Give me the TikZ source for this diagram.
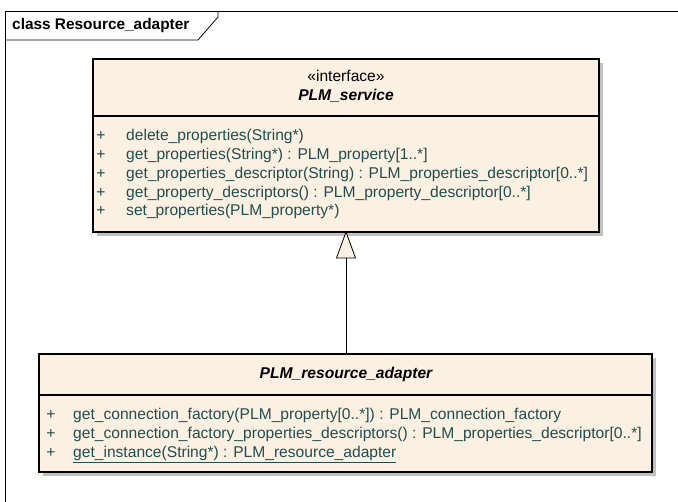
\documentclass[tikz,border=0pt]{standalone}
\usepackage{fontspec}
\setmainfont{Liberation Sans}
\definecolor{boxfill}{HTML}{FBF0E1}
\definecolor{optext}{HTML}{204F4F}
\definecolor{shadowc}{HTML}{C0C0C0}
\begin{document}
\begin{tikzpicture}[x=1pt,y=-1pt,
  boxline/.style={draw=black,line width=1.1pt},
  optxt/.style={anchor=west,inner sep=0pt,text=optext,font=\fontsize{15.6}{18}\selectfont,text height=11pt,text depth=3pt},
  plus/.style={anchor=center,inner sep=0pt,text=optext,font=\fontsize{15.6}{18}\selectfont,text height=11pt,text depth=3pt},
  titletxt/.style={anchor=center,inner sep=0pt,font=\fontsize{15.6}{18}\selectfont\bfseries\itshape,text height=11pt,text depth=3pt},
  stereo/.style={anchor=center,inner sep=0pt,font=\fontsize{15.6}{18}\selectfont,text height=11pt,text depth=3pt},
  frameline/.style={draw=black,line width=0.8pt}]
\useasboundingbox (0,0) rectangle (678,502);
\fill[white] (0,0) rectangle (678,502);
% frame
\draw[frameline] (5,502) -- (5,11) -- (678,11);
\draw[frameline] (5,40) -- (198,40) -- (218,17) -- (218,11);
\node[anchor=west,inner sep=0pt,font=\fontsize{15.4}{18}\selectfont\bfseries,text height=11pt,text depth=3pt] (frametitle) at (12,26) {class Resource\_adapter};
% top box
\fill[shadowc] (97,63) rectangle (603,236);
\fill[boxfill] (93,59) rectangle (599,232);
\draw[boxline] (93,59) rectangle (599,232);
\draw[boxline] (93,116) -- (599,116);
\coordinate (topbottom) at (346,232);
\node[stereo] (st) at (346,78) {«interface»};
\node[titletxt] (t1) at (346,97) {PLM\_service};
\foreach \i/\y/\t in {1/137/{delete\_properties(String*)},
  2/155.7/{get\_properties(String*) : PLM\_property[1..*]},
  3/174.4/{get\_properties\_descriptor(String) : PLM\_properties\_descriptor[0..*]},
  4/193.1/{get\_property\_descriptors() : PLM\_property\_descriptor[0..*]},
  5/211.8/{set\_properties(PLM\_property*)}}{
  \node[plus] (pa\i) at (101,\y) {+};
  \node[optxt] (oa\i) at (126,\y) {\t};
}
% bottom box
\fill[shadowc] (43,358) rectangle (656,476);
\fill[boxfill] (39,354) rectangle (652,472);
\draw[boxline] (39,354) rectangle (652,472);
\draw[boxline] (39,395) -- (652,395);
\coordinate (bottomtop) at (346,354);
\node[titletxt] (t2) at (346,375) {PLM\_resource\_adapter};
\foreach \i/\y/\t in {1/416/{get\_connection\_factory(PLM\_property[0..*]) : PLM\_connection\_factory},
  2/435/{get\_connection\_factory\_properties\_descriptors() : PLM\_properties\_descriptor[0..*]}}{
  \node[plus] (pb\i) at (51,\y) {+};
  \node[optxt] (ob\i) at (73,\y) {\t};
}
\node[plus] (pb3) at (51,454) {+};
\node[optxt] (ob3) at (73,454) {\underline{get\_instance(String*) : PLM\_resource\_adapter}};
% generalization
\coordinate (tribase) at (346,258);
\draw[line width=0.8pt] (bottomtop) -- (tribase);
\draw[line width=0.8pt,fill=boxfill] (topbottom) -- (355.5,258) -- (336.5,258) -- cycle;
\end{tikzpicture}
\end{document}
